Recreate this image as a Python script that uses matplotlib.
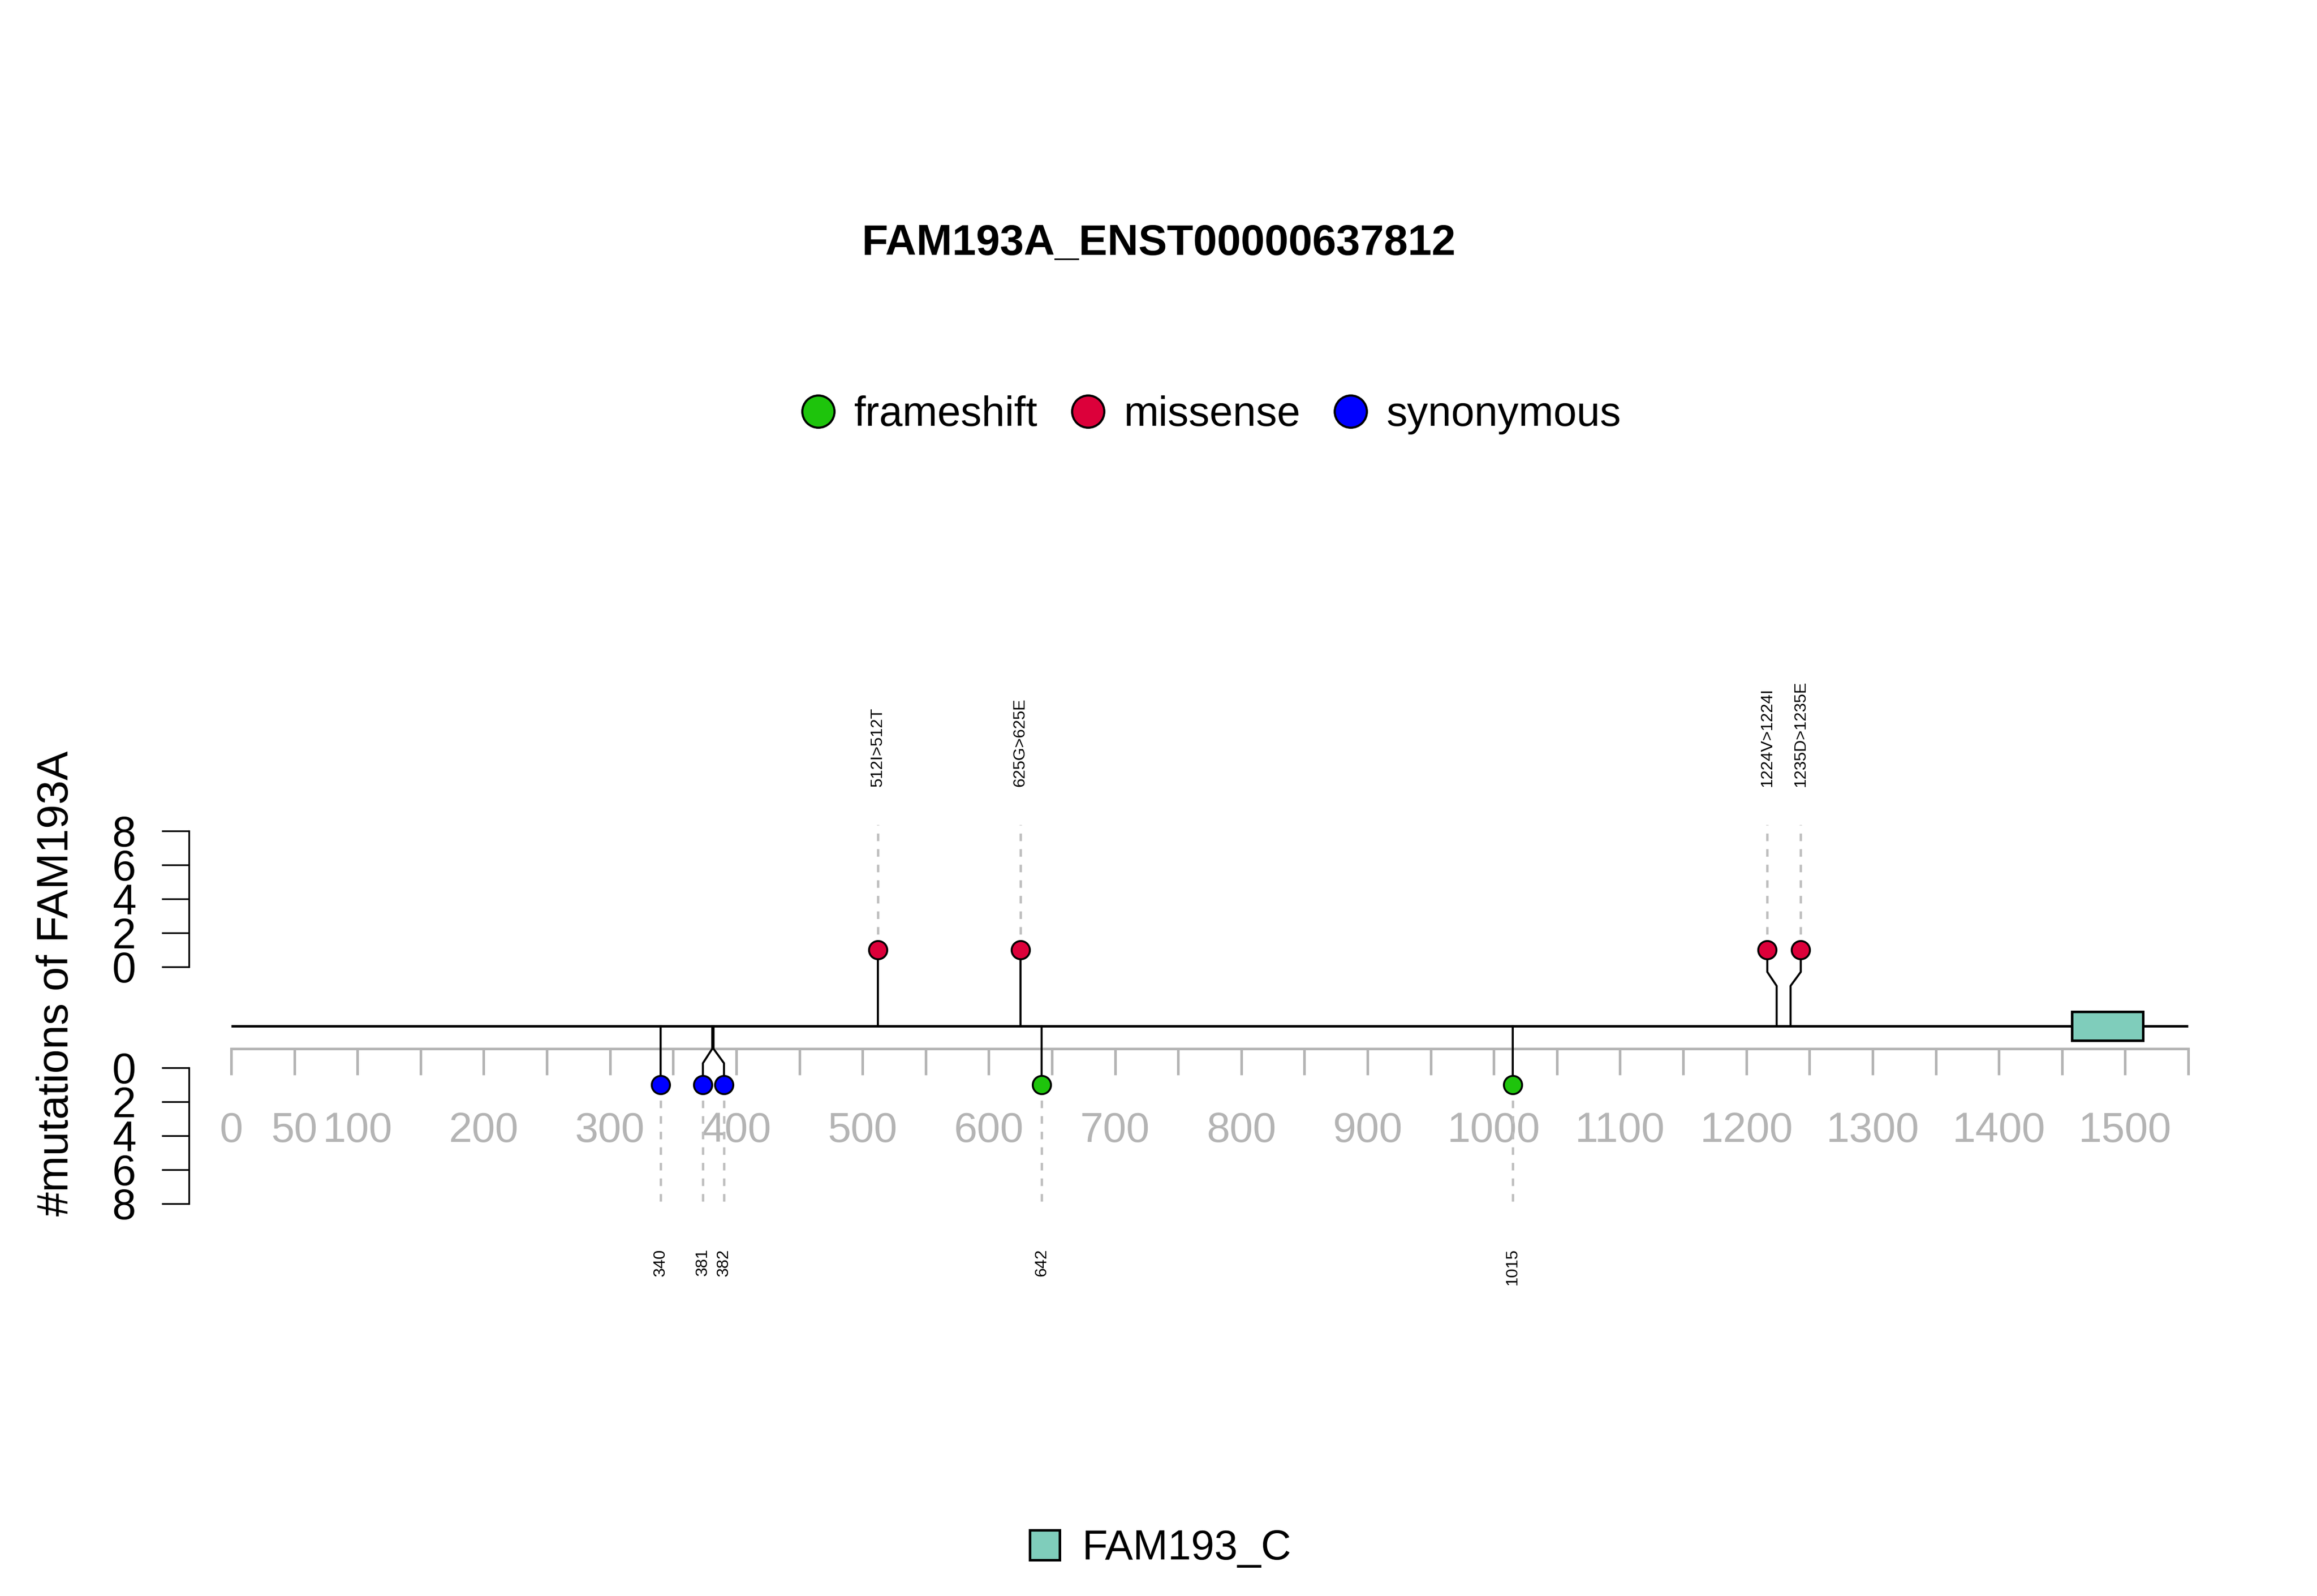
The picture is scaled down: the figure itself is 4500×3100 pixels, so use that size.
import matplotlib
matplotlib.use('Agg')
import matplotlib.pyplot as plt
from matplotlib.lines import Line2D
from matplotlib.patches import Rectangle, Patch

plt.rcParams['font.family'] = ['Liberation Sans', 'DejaVu Sans']

# ---------------- data ----------------
title = 'FAM193A_ENST00000637812'
ylabel = '#mutations of FAM193A'
protein_length = 1550

x_ticks = [0, 50, 100, 150, 200, 250, 300, 350, 400, 450, 500, 550, 600, 650, 700,
           750, 800, 850, 900, 950, 1000, 1050, 1100, 1150, 1200, 1250, 1300, 1350,
           1400, 1450, 1500, 1550]
x_tick_labels = ['0', '50', '100', '', '200', '', '300', '', '400', '', '500', '',
                 '600', '', '700', '', '800', '', '900', '', '1000', '', '1100', '',
                 '1200', '', '1300', '', '1400', '', '1500', '']
y_ticks = [0, 2, 4, 6, 8]

# mutations drawn above the backbone
up_pos = [512, 625, 1224, 1235]
up_head = [512, 625, 1216.6, 1243.1]
up_count = [1, 1, 1, 1]
up_type = ['missense', 'missense', 'missense', 'missense']
up_label = ['512I>512T', '625G>625E', '1224V>1224I', '1235D>1235E']

# mutations drawn below the backbone
low_pos = [340, 381, 382, 642, 1015]
low_head = [340, 373.6, 390.3, 642, 1015]
low_count = [1, 1, 1, 1, 1]
low_type = ['synonymous', 'synonymous', 'synonymous', 'frameshift', 'frameshift']
low_label = ['340', '381', '382', '642', '1015']

legend_types = ['frameshift', 'missense', 'synonymous']
type_colors = {'frameshift': '#1EC40C', 'missense': '#DC003A', 'synonymous': '#0000FF'}

domain_names = ['FAM193_C']
domain_start = [1458]
domain_end = [1514]
domain_colors = ['#7FCDBB']

# ---------------- layout (in upper-count units) ----------------
BACKBONE = -3.485
XAXIS_Y = -4.818
LOW_ZERO = -5.939
UP_BEND = (-1.12, -0.30)
LOW_BEND = (-4.82, -5.67)
UP_DASH_END = 8.36
UP_LABEL_Y = 10.6
LOW_DASH_END = -14.24
LOW_LABEL_Y = -16.58
DOMAIN_H = 1.70
YAXIS_X = -33.4
GRAY = '#B4B4B4'
DASH_GRAY = '#BEBEBE'
FS = 19.5

fig = plt.figure(figsize=(15, 3100 / 300), dpi=300)
ax = fig.add_axes([449 / 4500, 1 - 2500 / 3100, 3801 / 4500, 1200 / 3100])
ax.set_xlim(0, protein_length)
ax.set_ylim((1878 - 2500) / 33.0, (1878 - 1300) / 33.0)
ax.set_facecolor('none')
for s in ax.spines.values():
    s.set_visible(False)
ax.set_xticks([])
ax.set_yticks([])

# gray position axis
secx = ax.secondary_xaxis(XAXIS_Y, transform=ax.transData)
secx.set_xticks(x_ticks, labels=x_tick_labels)
for s in secx.spines.values():
    s.set_color(GRAY)
    s.set_linewidth(1.2)
secx.tick_params(axis='x', direction='out', length=12.2, width=1.2, color=GRAY,
                 labelcolor=GRAY, labelsize=FS, pad=17.0)

# count axes
secu = ax.secondary_yaxis(YAXIS_X, transform=ax.transData)
secl = ax.secondary_yaxis(YAXIS_X, transform=ax.transData,
                          functions=(lambda y: LOW_ZERO - y, lambda c: LOW_ZERO - c))
for sa in (secu, secl):
    sa.set_yticks(y_ticks)
    sa.spines['left'].set_bounds(0, 8)
    sa.spines['left'].set_linewidth(0.8)
    sa.tick_params(axis='y', direction='out', length=12.7, width=0.8,
                   labelsize=20, pad=12.0)

# backbone
ax.plot([0, protein_length], [BACKBONE, BACKBONE], color='black', lw=1.15,
        zorder=2, solid_capstyle='butt')

# domains
for st, en, col in zip(domain_start, domain_end, domain_colors):
    ax.add_patch(Rectangle((st, BACKBONE - DOMAIN_H / 2), en - st, DOMAIN_H,
                           facecolor=col, edgecolor='black', lw=1.2, zorder=3))

# upper lollipops
for p, hx, c, t, lab in zip(up_pos, up_head, up_count, up_type, up_label):
    hy = c
    if hx == p:
        ax.plot([p, p], [BACKBONE, hy], color='black', lw=0.95, zorder=3)
    else:
        ax.plot([p, p, hx, hx], [BACKBONE, UP_BEND[0], UP_BEND[1], hy],
                color='black', lw=0.95, zorder=3)
    ax.plot([hx, hx], [hy, UP_DASH_END], color=DASH_GRAY, lw=1.1,
            dashes=(3.2, 3.4), zorder=1)
    ax.plot([hx], [hy], marker='o', ls='', ms=8.5, mfc=type_colors[t],
            mec='black', mew=0.9, zorder=5)
    ax.text(hx, UP_LABEL_Y, lab, rotation=90, ha='center', va='bottom',
            fontsize=7.7)

# lower lollipops
for p, hx, c, t, lab in zip(low_pos, low_head, low_count, low_type, low_label):
    hy = LOW_ZERO - c
    if hx == p:
        ax.plot([p, p], [BACKBONE, hy], color='black', lw=0.95, zorder=3)
    else:
        ax.plot([p, p, hx, hx], [BACKBONE, LOW_BEND[0], LOW_BEND[1], hy],
                color='black', lw=0.95, zorder=3)
    ax.plot([hx, hx], [hy, LOW_DASH_END], color=DASH_GRAY, lw=1.1,
            dashes=(3.2, 3.4), zorder=1)
    ax.plot([hx], [hy], marker='o', ls='', ms=8.5, mfc=type_colors[t],
            mec='black', mew=0.9, zorder=5)
    ax.text(hx, LOW_LABEL_Y, lab, rotation=90, ha='center', va='top',
            fontsize=7.7)

# texts
fig.text(0.5, 1 - 495 / 3100, title, ha='center', va='baseline',
         fontsize=20, fontweight='bold')
fig.text(110 / 4500, 1 - 1910 / 3100, ylabel, rotation=90, ha='center',
         va='center', fontsize=20.3)

# mutation type legend
handles = [Line2D([], [], marker='o', ls='', ms=15.0, mfc=type_colors[t],
                  mec='black', mew=1.0) for t in legend_types]
fig.legend(handles, legend_types, loc='center',
           bbox_to_anchor=(2353 / 4500, 1 - 806 / 3100), ncol=3, frameon=False,
           fontsize=FS, handlelength=0.78, handletextpad=0.47,
           columnspacing=0.81, borderpad=0, borderaxespad=0)

# domain legend
dh = [Patch(facecolor=c, edgecolor='black', linewidth=1.2) for c in domain_colors]
fig.legend(dh, domain_names, loc='center',
           bbox_to_anchor=(2254 / 4500, 1 - 3008 / 3100), frameon=False,
           fontsize=FS, handlelength=0.72, handleheight=0.72,
           handletextpad=0.54, borderpad=0, borderaxespad=0)

fig.savefig('out.png', dpi=300, facecolor='white')
